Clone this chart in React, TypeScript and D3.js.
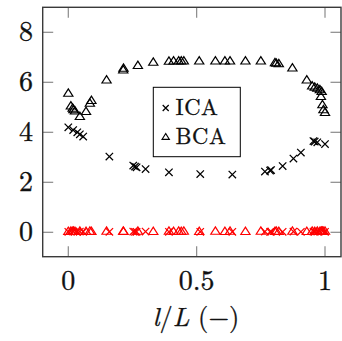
import React from "react";
import * as d3 from "d3";

const icaX = [0, 0.019, 0.035, 0.045, 0.058, 0.16, 0.253, 0.26, 0.266, 0.301, 0.392, 0.514, 0.639, 0.766, 0.786, 0.79, 0.835, 0.877, 0.906, 0.955, 0.96, 0.97, 1.0];
const icaY = [4.2, 4.09, 4.0, 3.92, 3.83, 3.03, 2.67, 2.63, 2.6, 2.53, 2.4, 2.33, 2.31, 2.43, 2.47, 2.49, 2.65, 2.95, 3.19, 3.65, 3.63, 3.6, 3.53];
const bcaX = [0, 0.01, 0.017, 0.02, 0.026, 0.045, 0.069, 0.084, 0.09, 0.149, 0.214, 0.215, 0.271, 0.331, 0.392, 0.41, 0.43, 0.44, 0.45, 0.51, 0.573, 0.61, 0.63, 0.69, 0.75, 0.805, 0.81, 0.82, 0.873, 0.929, 0.95, 0.96, 0.97, 0.98, 0.987, 0.984, 0.99, 0.994, 1.0];
const bcaY = [5.56, 5.05, 4.96, 4.9, 4.85, 4.63, 4.83, 5.16, 5.27, 6.09, 6.49, 6.56, 6.67, 6.8, 6.84, 6.85, 6.85, 6.85, 6.85, 6.85, 6.85, 6.85, 6.85, 6.85, 6.85, 6.78, 6.76, 6.74, 6.57, 6.09, 5.85, 5.8, 5.76, 5.7, 5.63, 5.43, 5.1, 4.9, 4.79];
const icaErrY = [0.02, 0.03, 0.02, 0.03, 0.02, 0.02, 0.03, 0.02, 0.02, 0.03, 0.02, 0.02, 0.02, 0.03, 0.02, 0.03, 0.02, 0.03, 0.02, 0.03, 0.02, 0.03, 0.02];
const bcaErrY = [0.03, 0.04, 0.03, 0.04, 0.03, 0.04, 0.03, 0.04, 0.03, 0.04, 0.04, 0.03, 0.04, 0.03, 0.04, 0.03, 0.04, 0.03, 0.04, 0.03, 0.04, 0.03, 0.04, 0.03, 0.04, 0.03, 0.04, 0.03, 0.04, 0.03, 0.04, 0.03, 0.04, 0.03, 0.04, 0.03, 0.04, 0.03, 0.04];
const xTicks = [0, 0.5, 1];
const xTickLabels = ["0", "0.5", "1"];
const yTicks = [0, 2, 4, 6, 8];
const legendLabels = ["ICA", "BCA"];

const W = 342, H = 341;
const box = { left: 42.7, right: 341, top: 7.3, bottom: 256.7 };

const x = d3.scaleLinear().domain([0, 1]).range([68.3, 325]);
const y = d3.scaleLinear().domain([0, 8]).range([232.3, 32.3]);

const FONT = "Latin Modern Roman";

function Cross({ cx, cy, color, s = 3.7 }: { cx: number; cy: number; color: string; s?: number }) {
  return (
    <path
      d={`M${cx - s},${cy - s}L${cx + s},${cy + s}M${cx - s},${cy + s}L${cx + s},${cy - s}`}
      stroke={color}
      strokeWidth={1.25}
      fill="none"
    />
  );
}

function Tri({ cx, cy, color, s = 4.6 }: { cx: number; cy: number; color: string; s?: number }) {
  const h = s * 1.6;
  return (
    <path
      d={`M${cx},${cy - h * 0.6}L${cx + s},${cy + h * 0.4}L${cx - s},${cy + h * 0.4}Z`}
      stroke={color}
      strokeWidth={1.2}
      fill="none"
    />
  );
}

const textStyle = { fontFamily: FONT };

export default function App() {
  const tickLen = 10.5;
  return (
    <svg width={W} height={H} style={{ position: "absolute", left: 0, top: 0, background: "#fff" }}>
      <rect x={0} y={0} width={W} height={H} fill="#fff" />
      {yTicks.map((t) => (
        <g key={"yt" + t}>
          <line x1={box.left} x2={box.left + tickLen} y1={y(t)} y2={y(t)} stroke="#8a8a8a" strokeWidth={1.2} />
          <line x1={box.right} x2={box.right - tickLen} y1={y(t)} y2={y(t)} stroke="#8a8a8a" strokeWidth={1.2} />
          <text x={33} y={y(t) + 9} textAnchor="end" style={textStyle} fontSize={28} fill="#111" stroke="#111" strokeWidth={0.35}>
            {t}
          </text>
        </g>
      ))}
      {xTicks.map((t, i) => (
        <g key={"xt" + t}>
          <line x1={x(t)} x2={x(t)} y1={box.bottom} y2={box.bottom - tickLen} stroke="#8a8a8a" strokeWidth={1.2} />
          <line x1={x(t)} x2={x(t)} y1={box.top} y2={box.top + tickLen} stroke="#8a8a8a" strokeWidth={1.2} />
          <text x={x(t)} y={290} textAnchor="middle" style={textStyle} fontSize={28} fill="#111" stroke="#111" strokeWidth={0.35}>
            {xTickLabels[i]}
          </text>
        </g>
      ))}
      {bcaX.map((v, i) => (
        <Tri key={"rb" + i} cx={x(v)} cy={y(bcaErrY[i])} color="#ff0000" />
      ))}
      {icaX.map((v, i) => (
        <Cross key={"ri" + i} cx={x(v)} cy={y(icaErrY[i])} color="#ff0000" />
      ))}
      {bcaX.map((v, i) => (
        <Tri key={"b" + i} cx={x(v)} cy={y(bcaY[i])} color="#000" />
      ))}
      {icaX.map((v, i) => (
        <Cross key={"i" + i} cx={x(v)} cy={y(icaY[i])} color="#000" />
      ))}
      <rect
        x={box.left}
        y={box.top}
        width={box.right - box.left}
        height={box.bottom - box.top}
        fill="none"
        stroke="#3a3a3a"
        strokeWidth={1.4}
      />
      <rect x={153.3} y={87.3} width={87} height={69.4} fill="#fff" stroke="#000" strokeWidth={1} />
      <Cross cx={165.7} cy={108} color="#000" s={3} />
      <text x={175.5} y={115} style={textStyle} fontSize={22.5} fill="#111" stroke="#111" strokeWidth={0.3} letterSpacing={0.6}>
        {legendLabels[0]}
      </text>
      <Tri cx={165.7} cy={137} color="#000" s={3.6} />
      <text x={175.5} y={144} style={textStyle} fontSize={22.5} fill="#111" stroke="#111" strokeWidth={0.3} letterSpacing={0.6}>
        {legendLabels[1]}
      </text>
      <text x={196} y={326} textAnchor="middle" style={textStyle} fontSize={26.5} fill="#111" stroke="#111" strokeWidth={0.3}>
        <tspan fontStyle="italic">l</tspan>
        <tspan>/</tspan>
        <tspan fontStyle="italic">L</tspan>
        <tspan> (−)</tspan>
      </text>
    </svg>
  );
}
